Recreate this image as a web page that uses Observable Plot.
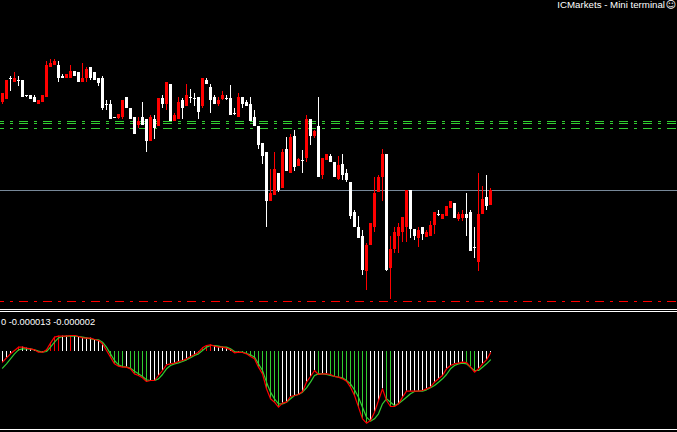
<!DOCTYPE html>
<html>
<head>
<meta charset="utf-8">
<script src="https://cdn.jsdelivr.net/npm/d3@7"></script>
<script src="https://cdn.jsdelivr.net/npm/@observablehq/plot@0.6"></script>
<style>
  html, body { margin: 0; padding: 0; background: #000; }
  body { width: 677px; height: 432px; overflow: hidden; position: relative; font-family: "Liberation Sans", Arial, sans-serif; }
  .abs { position: absolute; left: 0; }
  .sep { position: absolute; left: 0; width: 677px; height: 1px; background: #fff; }
  #title { position: absolute; top: 0px; right: 12px; color: #fff; font-size: 9.7px; line-height: 10px; white-space: nowrap; }
  #smile { position: absolute; top: 0px; right: 1px; color: #fff; font-family: "DejaVu Sans"; font-size: 10px; line-height: 10px; }
  #osclabel { position: absolute; top: 317px; left: 1px; color: #fff; font-size: 9.3px; line-height: 11px; white-space: nowrap; }
</style>
</head>
<body>
<div id="main" class="abs" style="top:0"></div>
<div class="sep" style="top:309px"></div>
<div class="sep" style="top:311px"></div>
<div id="osc" class="abs" style="top:313px"></div>
<div class="sep" style="top:429px"></div>
<div id="title">ICMarkets - Mini terminal</div>
<div id="smile">☺</div>
<div id="osclabel">0 -0.000013 -0.000002</div>
<script>
// Price data in points (relative units), one value per candle
const open  = [209,212,232,229,230,230,215,215,213,207,209,214,244,246,245,234,233,233,239,238,229,233,243,238,232,232,206,206,193,193,194,213,202,193,186,193,191,170,191,185,212,207,226,190,192,210,205,213,212,213,205,230,223,213,207,212,212,212,197,194,213,208,206,193,184,167,158,110,116,137,123,161,138,174,145,150,153,191,175,184,136,151,154,148,132,146,137,128,98,83,74,40,66,84,119,134,156,43,62,75,79,84,120,81,73,83,74,75,86,96,92,95,103,107,92,93,96,98,63,49,97,113,106];
const high  = [217,230,234,238,234,230,215,215,215,210,215,249,251,251,249,236,236,245,239,238,247,243,243,238,232,234,210,210,193,196,210,213,202,193,193,208,191,195,195,212,215,228,226,197,213,212,226,221,217,213,232,232,226,215,213,219,215,225,202,217,213,210,213,200,184,167,158,141,158,137,161,173,176,180,152,160,195,191,180,213,152,156,156,148,154,156,141,128,100,94,80,67,87,133,135,161,156,74,83,87,93,120,120,81,83,83,80,89,98,100,96,104,109,107,98,100,117,100,83,137,124,135,122];
const low   = [207,212,220,229,225,214,214,212,209,207,209,214,244,246,229,233,233,233,235,229,229,229,231,231,225,201,201,192,193,192,192,203,192,177,183,186,159,170,172,185,203,201,190,190,192,192,205,208,205,192,203,227,198,207,205,211,211,196,196,194,203,205,190,185,162,147,84,110,116,119,123,140,138,140,145,138,149,166,173,134,132,151,149,134,131,131,129,92,84,73,36,21,66,79,119,110,40,12,58,58,69,69,73,71,64,71,74,75,77,95,92,95,103,93,90,90,75,60,53,40,97,101,106];
const close = [217,230,232,232,230,214,215,212,209,210,215,245,247,249,233,233,236,239,235,229,232,241,233,231,228,203,206,192,193,196,210,203,192,177,189,186,170,193,183,212,207,228,190,195,208,203,215,213,212,199,232,227,211,207,210,215,212,196,197,213,207,205,190,185,166,155,110,117,141,121,158,140,173,144,151,150,191,175,179,134,152,156,149,134,145,136,131,95,84,73,41,65,87,117,133,156,41,61,78,83,93,120,82,75,80,77,78,85,98,96,96,104,109,93,96,96,93,60,63,96,111,105,120];

// Price levels drawn as horizontal lines (points)
const levelsUpper = [189, 187, 182];   // green dash-dot
const levelMid = 120;                  // gray solid
const levelLow = 9;                    // red dash-dot

// Oscillator (units of 1e-6): main (red line / histogram) and signal (green line)
const oscMain = [-16,-9.5,-3.5,1.5,6.5,6.5,5,4,2.5,-1,-1,2.5,12.5,21.5,23,23,23,24,24,22.5,20.5,20,20,18,16.5,11.5,1.5,-8.5,-18.5,-22,-23.5,-23.5,-26,-33.5,-36,-39.5,-45,-43.5,-43.5,-36,-28.5,-20,-18.5,-17.5,-15,-13.5,-11,-7.5,-4.5,-1,5.5,9,10,8,6.5,6.5,5,2.5,-2,-1,-1.5,-3.5,-7.5,-11,-23.5,-33.5,-56,-71,-76,-83.5,-77.5,-76,-67.5,-66,-64.5,-60,-46,-37.5,-28.5,-34.5,-33.5,-33.5,-34.5,-37.5,-38.5,-41,-44.5,-53.5,-66,-83.5,-101,-107.5,-103.5,-91,-73.5,-56,-73.5,-82.5,-82.5,-78.5,-68.5,-59.5,-59.5,-59.5,-59.5,-58.5,-56,-53.5,-46,-41,-36,-26,-21,-18.5,-17.5,-16,-16.5,-23.5,-31,-26,-18.5,-12.5,-2];
const oscSignal = [-25,-18.5,-11,-3.5,2.5,4,4,4,2.5,0.5,-1,0,6.5,14,20.5,22.5,23,23,23.5,22.5,21.5,20.5,19,18,17.5,14,6.5,-3.5,-13.5,-20,-22.5,-23.5,-25,-29.5,-33.5,-37.5,-42.5,-43.5,-43.5,-41,-34.5,-26,-21,-18.5,-17,-15,-12.5,-9.5,-6,-3.5,1.5,6.5,9,9,8,6.5,6.5,4,0,-1,-1,-3,-5,-8.5,-18.5,-28.5,-46,-61,-71,-78.5,-78.5,-76,-71,-66,-64.5,-61,-54.5,-46,-36,-33.5,-33.5,-34.5,-36,-37.5,-38.5,-39.5,-43.5,-48.5,-57.5,-68.5,-83.5,-98.5,-104.5,-101,-93.5,-78.5,-71,-76,-81,-78.5,-73.5,-68.5,-63.5,-60,-59.5,-59.5,-57.5,-54.5,-51,-46,-41,-34.5,-26,-21,-18.5,-17.5,-18.5,-23.5,-28.5,-28.5,-23.5,-18.5,-12.5];

const RED = "#ff0000", WHITE = "#ffffff", GREEN = "#32cd32", GRAY = "#778899";

const candles = open.map((o, i) => ({
  i, o, h: high[i], l: low[i], c: close[i],
  top: Math.max(o, close[i]), bot: Math.min(o, close[i]),
  color: close[i] > o ? RED : WHITE
}));

const osc = oscMain.map((m, i) => ({
  i, m, s: oscSignal[i],
  color: i > 0 && m > 0 && m > oscMain[i - 1] ? RED
       : i > 0 && m < 0 && m < oscMain[i - 1] ? GREEN : WHITE
}));

const xScale = {type: "linear", domain: [-0.5, 168.75], range: [0, 677], axis: null};

const mainChart = Plot.plot({
  width: 677, height: 309, margin: 0,
  style: {background: "transparent", display: "block"},
  x: xScale,
  y: {type: "linear", domain: [310, 0], range: [0, 310], axis: null},
  color: {type: "identity"},
  marks: [
    Plot.ruleY(levelsUpper, {y: d => d, stroke: GREEN, strokeWidth: 1, strokeDasharray: "9,6,3,6", strokeDashoffset: 5}),
    Plot.ruleY([levelMid], {y: d => d, stroke: GRAY, strokeWidth: 1}),
    Plot.ruleY([levelLow], {y: d => d, stroke: RED, strokeWidth: 1, strokeDasharray: "9,6,3,6", strokeDashoffset: 5}),
    Plot.ruleX(candles, {x: "i", y1: "h", y2: "l", stroke: "color", strokeWidth: 1, insetBottom: -1}),
    Plot.ruleX(candles, {x: "i", y1: "top", y2: "bot", stroke: "color", strokeWidth: 3, insetBottom: -1})
  ]
});
document.getElementById("main").appendChild(mainChart);

const oscChart = Plot.plot({
  width: 677, height: 115, margin: 0,
  style: {background: "transparent", display: "block"},
  x: xScale,
  y: {type: "linear", domain: [57, -115.5], range: [0, 115], axis: null},
  color: {type: "identity"},
  marks: [
    Plot.ruleX(osc, {x: "i", y1: d => 0, y2: "m", stroke: "color", strokeWidth: 1}),
    Plot.line(osc, {x: "i", y: "s", stroke: GREEN, strokeWidth: 1.2}),
    Plot.line(osc, {x: "i", y: "m", stroke: RED, strokeWidth: 1.2})
  ]
});
document.getElementById("osc").appendChild(oscChart);
</script>
</body>
</html>
